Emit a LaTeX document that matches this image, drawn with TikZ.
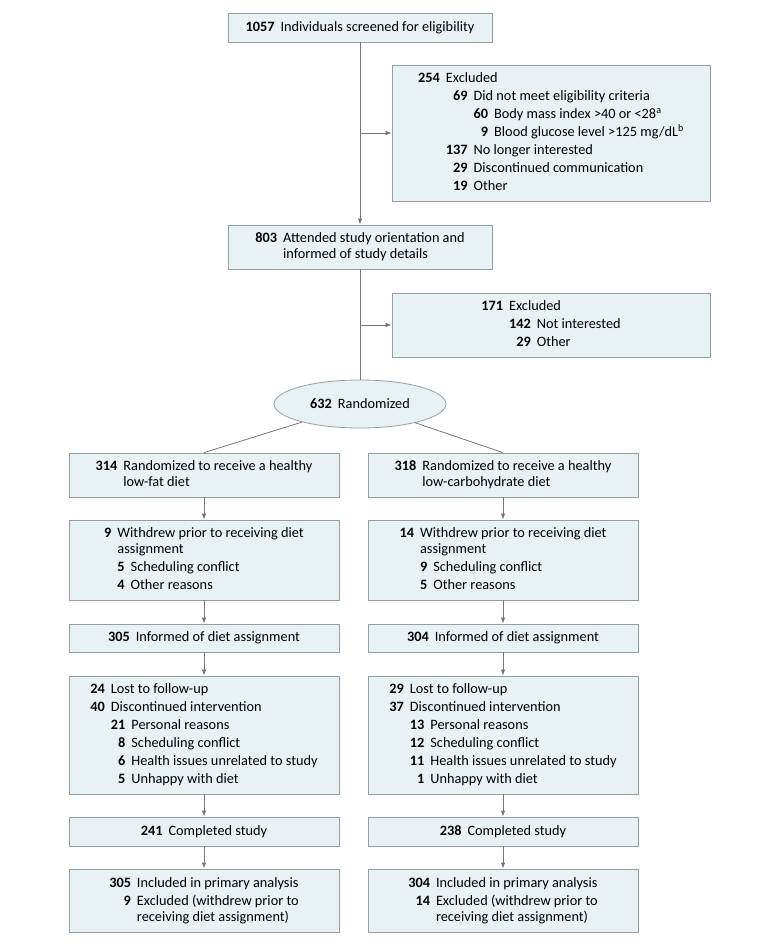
\documentclass[tikz,border=0pt]{standalone}
\usepackage{fontspec}
\setmainfont{Carlito}
\usepackage{xcolor}
\usepackage{tikz}
\usetikzlibrary{arrows.meta,shapes.geometric}
\definecolor{boxfill}{RGB}{232,242,244}
\definecolor{boxline}{RGB}{150,158,162}
\definecolor{flowline}{RGB}{118,118,118}
\setlength{\tabcolsep}{0pt}

\begin{document}
\begin{tikzpicture}[x=1pt,y=-1pt,
    box/.style={draw=boxline,fill=boxfill,line width=0.8pt,inner sep=0pt,align=center,font=\fontsize{14.3}{18}\selectfont},
    wide/.style={box,minimum width=264pt},
    col/.style={box,minimum width=270pt},
    side/.style={box,minimum width=318pt},
    arr/.style={draw=flowline,line width=0.8pt,-{Latex[length=6pt,width=4.5pt]}},
    ln/.style={draw=flowline,line width=0.8pt}]
    \useasboundingbox (0,0) rectangle (780,944);
    \node[wide,minimum height=29pt] (scr) at (360,27.5) {\textbf{1057}\hspace{6pt}Individuals screened for eligibility};
    \node[side,minimum height=136pt] (ex1) at (551,133) {\begin{tabular}{r@{\hspace{6pt}}r@{\hspace{6pt}}r@{\hspace{6pt}}l}
        \textbf{254} & \multicolumn{3}{l}{Excluded}\\
        & \textbf{69} & \multicolumn{2}{l}{Did not meet eligibility criteria}\\
        & & \textbf{60} & Body mass index >40 or <28\textsuperscript{a}\\
        & & \textbf{9} & Blood glucose level >125 mg/dL\textsuperscript{b}\\
        & \textbf{137} & \multicolumn{2}{l}{No longer interested}\\
        & \textbf{29} & \multicolumn{2}{l}{Discontinued communication}\\
        & \textbf{19} & \multicolumn{2}{l}{Other}
    \end{tabular}};
    \node[wide,minimum height=44pt] (ori) at (360,247) {\begin{tabular}{r@{\hspace{6pt}}l}
        \textbf{803} & Attended study orientation and\\[-2pt]
        & informed of study details
    \end{tabular}};
    \node[side,minimum height=64pt] (ex2) at (551,325) {\begin{tabular}{r@{\hspace{6pt}}r@{\hspace{6pt}}l}
        \textbf{171} & \multicolumn{2}{l}{Excluded}\\
        & \textbf{142} & Not interested\\
        & \textbf{29} & Other
    \end{tabular}};
    \node[box,ellipse,minimum width=172pt,minimum height=48pt] (rnd) at (360,404) {\textbf{632}\hspace{6pt}Randomized};
    \node[col,minimum height=44pt] (lr) at (204,475) {\begin{tabular}{r@{\hspace{6pt}}l}
        \textbf{314} & Randomized to receive a healthy\\[-2pt]
        & low-fat diet
    \end{tabular}};
    \node[col,minimum height=44pt] (rr) at (503,475) {\begin{tabular}{r@{\hspace{6pt}}l}
        \textbf{318} & Randomized to receive a healthy\\[-2pt]
        & low-carbohydrate diet
    \end{tabular}};
    \node[col,minimum height=80pt] (lw) at (204,560) {\begin{tabular}{r@{\hspace{6pt}}r@{\hspace{6pt}}l}
        \textbf{9} & \multicolumn{2}{l}{Withdrew prior to receiving diet}\\[-2pt]
        & \multicolumn{2}{l}{assignment}\\
        & \textbf{5} & Scheduling conflict\\
        & \textbf{4} & Other reasons
    \end{tabular}};
    \node[col,minimum height=80pt] (rw) at (503,560) {\begin{tabular}{r@{\hspace{6pt}}r@{\hspace{6pt}}l}
        \textbf{14} & \multicolumn{2}{l}{Withdrew prior to receiving diet}\\[-2pt]
        & \multicolumn{2}{l}{assignment}\\
        & \textbf{9} & Scheduling conflict\\
        & \textbf{5} & Other reasons
    \end{tabular}};
    \node[col,minimum height=28pt] (li) at (204,638) {\textbf{305}\hspace{6pt}Informed of diet assignment};
    \node[col,minimum height=28pt] (ri) at (503,638) {\textbf{304}\hspace{6pt}Informed of diet assignment};
    \node[col,minimum height=118pt] (ll) at (204,735) {\begin{tabular}{r@{\hspace{6pt}}r@{\hspace{6pt}}l}
        \textbf{24} & \multicolumn{2}{l}{Lost to follow-up}\\
        \textbf{40} & \multicolumn{2}{l}{Discontinued intervention}\\
        & \textbf{21} & Personal reasons\\
        & \textbf{8} & Scheduling conflict\\
        & \textbf{6} & Health issues unrelated to study\\
        & \textbf{5} & Unhappy with diet
    \end{tabular}};
    \node[col,minimum height=118pt] (rl) at (503,735) {\begin{tabular}{r@{\hspace{6pt}}r@{\hspace{6pt}}l}
        \textbf{29} & \multicolumn{2}{l}{Lost to follow-up}\\
        \textbf{37} & \multicolumn{2}{l}{Discontinued intervention}\\
        & \textbf{13} & Personal reasons\\
        & \textbf{12} & Scheduling conflict\\
        & \textbf{11} & Health issues unrelated to study\\
        & \textbf{1} & Unhappy with diet
    \end{tabular}};
    \node[col,minimum height=29pt] (lc) at (204,831.5) {\textbf{241}\hspace{6pt}Completed study};
    \node[col,minimum height=29pt] (rc) at (503,831.5) {\textbf{238}\hspace{6pt}Completed study};
    \node[col,minimum height=63pt] (la) at (204,900.5) {\begin{tabular}{r@{\hspace{6pt}}l}
        \textbf{305} & Included in primary analysis\\
        \textbf{9} & Excluded (withdrew prior to\\[-2pt]
        & receiving diet assignment)
    \end{tabular}};
    \node[col,minimum height=63pt] (ra) at (503,900.5) {\begin{tabular}{r@{\hspace{6pt}}l}
        \textbf{304} & Included in primary analysis\\
        \textbf{14} & Excluded (withdrew prior to\\[-2pt]
        & receiving diet assignment)
    \end{tabular}};
    \coordinate (b1) at (scr.south |- ex1.west);
    \coordinate (b2) at (ori.south |- ex2.west);
    \draw[arr] (scr) to (ori);
    \draw[arr] (b1) to (ex1.west);
    \draw[ln] (ori) to (rnd);
    \draw[arr] (b2) to (ex2.west);
    \draw[ln] (rnd) to (lr.north);
    \draw[ln] (rnd) to (rr.north);
    \draw[arr] (lr) to (lw);
    \draw[arr] (rr) to (rw);
    \draw[arr] (lw) to (li);
    \draw[arr] (rw) to (ri);
    \draw[arr] (li) to (ll);
    \draw[arr] (ri) to (rl);
    \draw[arr] (ll) to (lc);
    \draw[arr] (rl) to (rc);
    \draw[arr] (lc) to (la);
    \draw[arr] (rc) to (ra);
\end{tikzpicture}
\end{document}
